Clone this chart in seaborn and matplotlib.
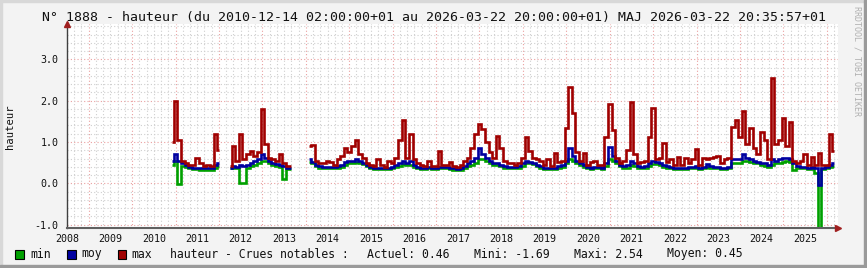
import numpy as np
import pandas as pd
import matplotlib
matplotlib.use("Agg")
import matplotlib.pyplot as plt
from matplotlib.patches import Rectangle
import seaborn as sns

nan = np.nan

# ---------------- data (monthly, first month = 2010-12) ----------------
start_month = "2010-12-01"

max_vals = [
    1.00, 2.00, 1.06, 0.55, 0.50, 0.45, 0.45, 0.62, 0.48, 0.42, 0.45, 0.42,
    1.19, 0.80, nan, nan, 0.42, 0.90, 0.55, 1.19, 0.60, 0.72, 0.77, 0.65,
    0.75, 1.79, 0.95, 0.62, 0.60, 0.55, 0.72, 0.48, 0.42, 0.42, nan, nan,
    nan, nan, 0.90, 0.92, 0.55, 0.48, 0.50, 0.55, 0.52, 0.45, 0.58, 0.65,
    0.85, 0.75, 0.90, 1.06, 0.70, 0.62, 0.48, 0.45, 0.42, 0.58, 0.45, 0.40,
    0.55, 0.48, 0.62, 1.06, 1.54, 0.62, 1.20, 0.60, 0.48, 0.45, 0.42, 0.55,
    0.42, 0.42, 0.79, 0.45, 0.45, 0.52, 0.42, 0.40, 0.45, 0.55, 0.62, 0.85,
    1.19, 1.43, 1.31, 1.00, 0.75, 0.62, 1.14, 0.85, 0.55, 0.50, 0.48, 0.45,
    0.50, 0.62, 1.11, 0.78, 0.62, 0.58, 0.55, 0.45, 0.58, 0.42, 0.73, 0.52,
    0.55, 1.35, 2.32, 1.70, 0.75, 0.55, 0.73, 0.45, 0.52, 0.55, 0.45, 0.45,
    1.12, 1.92, 1.30, 0.62, 0.50, 0.55, 0.80, 1.96, 0.72, 0.48, 0.52, 0.55,
    1.11, 1.82, 0.60, 0.62, 0.97, 0.52, 0.58, 0.45, 0.64, 0.45, 0.62, 0.48,
    0.60, 0.82, 0.45, 0.62, 0.60, 0.62, 0.64, 0.65, 0.50, 0.60, 0.62, 1.37,
    1.53, 1.11, 1.75, 0.95, 1.35, 0.85, 0.70, 1.25, 1.05, 0.60, 2.54, 0.94,
    1.06, 1.57, 0.90, 1.48, 0.55, 0.48, 0.55, 0.71, 0.45, 0.64, 0.45, 0.74,
    0.45, 0.45, 1.19, 0.79,
]

moy_vals = [
    0.55, 0.70, 0.55, 0.48, 0.44, 0.40, 0.38, 0.38, 0.37, 0.36, 0.36, 0.37,
    0.45, 0.50, nan, nan, 0.38, 0.42, 0.40, 0.45, 0.42, 0.45, 0.50, 0.55,
    0.60, 0.72, 0.62, 0.55, 0.50, 0.47, 0.45, 0.42, 0.38, 0.37, nan, nan,
    nan, nan, 0.60, 0.52, 0.45, 0.42, 0.40, 0.40, 0.40, 0.40, 0.42, 0.45,
    0.52, 0.55, 0.55, 0.60, 0.55, 0.50, 0.45, 0.40, 0.38, 0.38, 0.37, 0.37,
    0.38, 0.40, 0.45, 0.50, 0.55, 0.48, 0.55, 0.45, 0.40, 0.38, 0.38, 0.40,
    0.38, 0.38, 0.40, 0.40, 0.40, 0.38, 0.36, 0.35, 0.36, 0.42, 0.48, 0.55,
    0.62, 0.85, 0.72, 0.62, 0.55, 0.50, 0.50, 0.45, 0.42, 0.40, 0.40, 0.40,
    0.42, 0.48, 0.55, 0.52, 0.50, 0.45, 0.42, 0.38, 0.37, 0.36, 0.38, 0.42,
    0.45, 0.55, 0.85, 0.65, 0.55, 0.48, 0.45, 0.40, 0.38, 0.40, 0.40, 0.38,
    0.50, 0.87, 0.65, 0.55, 0.45, 0.42, 0.45, 0.55, 0.50, 0.42, 0.40, 0.42,
    0.48, 0.55, 0.52, 0.48, 0.45, 0.42, 0.40, 0.38, 0.38, 0.37, 0.38, 0.40,
    0.40, 0.42, 0.38, 0.40, 0.47, 0.42, 0.40, 0.40, 0.38, 0.38, 0.40, 0.60,
    0.58, 0.60, 0.72, 0.62, 0.60, 0.55, 0.52, 0.50, 0.48, 0.45, 0.60, 0.55,
    0.58, 0.62, 0.62, 0.60, 0.48, 0.42, 0.40, 0.40, 0.38, 0.40, 0.38, -0.04,
    0.38, 0.40, 0.45, 0.48,
]

min_vals = [
    0.45, 0.55, -0.02, 0.42, 0.40, 0.37, 0.35, 0.34, 0.33, 0.33, 0.32, 0.33,
    0.38, 0.42, nan, nan, 0.36, 0.38, 0.37, 0.00, 0.00, 0.38, 0.42, 0.45,
    0.50, 0.55, 0.55, 0.50, 0.45, 0.43, 0.40, 0.10, 0.35, 0.34, nan, nan,
    nan, nan, 0.52, 0.48, 0.42, 0.38, 0.36, 0.36, 0.37, 0.37, 0.38, 0.40,
    0.45, 0.48, 0.50, 0.52, 0.50, 0.46, 0.42, 0.37, 0.34, 0.34, 0.34, 0.35,
    0.35, 0.37, 0.40, 0.42, 0.47, 0.44, 0.45, 0.40, 0.37, 0.35, 0.35, 0.36,
    0.35, 0.35, 0.36, 0.37, 0.37, 0.35, 0.33, 0.32, 0.33, 0.36, 0.42, 0.45,
    0.50, 0.60, 0.58, 0.55, 0.50, 0.45, 0.45, 0.42, 0.38, 0.37, 0.37, 0.37,
    0.38, 0.42, 0.48, 0.48, 0.46, 0.42, 0.38, 0.35, 0.34, 0.34, 0.35, 0.37,
    0.40, 0.48, 0.60, 0.55, 0.50, 0.44, 0.40, 0.36, 0.35, 0.36, 0.36, 0.35,
    0.42, 0.60, 0.55, 0.50, 0.42, 0.38, 0.38, 0.45, 0.42, 0.38, 0.37, 0.38,
    0.42, 0.46, 0.47, 0.44, 0.40, 0.38, 0.36, 0.35, 0.35, 0.34, 0.35, 0.36,
    0.36, 0.37, 0.35, 0.36, 0.40, 0.38, 0.36, 0.36, 0.35, 0.35, 0.36, 0.50,
    0.50, 0.50, 0.55, 0.55, 0.52, 0.50, 0.48, 0.45, 0.43, 0.40, 0.45, 0.48,
    0.50, 0.52, 0.55, 0.52, 0.31, 0.38, 0.36, 0.36, 0.35, 0.35, 0.26, -1.69,
    0.35, 0.36, 0.40, 0.42,
]

series_names = ["min", "moy", "max"]
series_colors = ["#00a000", "#0000a0", "#a00000"]
year_labels = [str(y) for y in range(2008, 2026)]
y_ticks = [-1.0, 0.0, 1.0, 2.0, 3.0]
title_text = ("N° 1888 - hauteur (du 2010-12-14 02:00:00+01 au "
              "2026-03-22 20:00:00+01) MAJ 2026-03-22 20:35:57+01")
y_label = "hauteur"
stats_label = "hauteur - Crues notables :"
stats_text = ["Actuel: 0.46", "Mini: -1.69", "Maxi: 2.54", "Moyen: 0.45"]
watermark = "RRDTOOL / TOBI OETIKER"

# ---------------- build long table ----------------
dates = pd.date_range(start_month, periods=len(max_vals), freq="MS")
tpos = dates.year + (dates.month - 1) / 12.0
frames = []
for name, vals in zip(series_names, [min_vals, moy_vals, max_vals]):
    v = np.array(vals, dtype=float)
    seg = np.cumsum(np.isnan(v))
    d = pd.DataFrame({"t": tpos, "value": v, "serie": name, "seg": seg})
    frames.append(d.dropna())
df = pd.concat(frames, ignore_index=True)

# ---------------- figure ----------------
sns.set_style("white")
plt.rcParams["font.family"] = ["DejaVu Sans Mono"]
plt.rcParams["axes.unicode_minus"] = False

W, H = 867, 268
fig = plt.figure(figsize=(W / 100, H / 100), dpi=100, facecolor="#f3f3f3")

def fx(px):
    return px / W

def fy(py):
    return 1 - py / H

# border (rrdtool style)
fig.patches.append(Rectangle((0, fy(2)), 1, 2 / H, transform=fig.transFigure,
                             color="#d8d8d8", zorder=0))
fig.patches.append(Rectangle((0, 0), 2 / W, 1, transform=fig.transFigure,
                             color="#d8d8d8", zorder=0))
fig.patches.append(Rectangle((fx(864), 0), 3 / W, 1, transform=fig.transFigure,
                             color="#9a9a9a", zorder=0))
fig.patches.append(Rectangle((0, 0), 1, 3 / H, transform=fig.transFigure,
                             color="#9a9a9a", zorder=0))

ax_l, ax_r, ax_t, ax_b = 67, 838, 24, 228
ax = fig.add_axes([fx(ax_l), fy(ax_b), (ax_r - ax_l) / W, (ax_b - ax_t) / H])
ax.set_facecolor("white")

px_per_year = 43.5
x0 = 2011 + (ax_l - 174.3) / px_per_year
x1 = 2011 + (ax_r - 174.3) / px_per_year
y0 = (183.3 - ax_b) / 41.3
y1 = (183.3 - ax_t) / 41.3
ax.set_xlim(x0, x1)
ax.set_ylim(y0, y1)

# grid
minor_c = "#cfcfcf"
major_c = "#eaa0a0"
dot = (0, (1, 2))
for k in range(-5, 20):
    yv = k * 0.2
    if y0 < yv < y1:
        is_major = (k % 5 == 0)
        ax.axhline(yv, color=major_c if is_major else minor_c, lw=0.8,
                   ls=dot, zorder=1)
for m in range(2008 * 6, 2027 * 6):
    xv = m / 6.0
    if x0 < xv < x1:
        is_major = (m % 6 == 0)
        ax.axvline(xv, color=major_c if is_major else minor_c, lw=0.8,
                   ls=dot, zorder=1)

sns.lineplot(data=df, x="t", y="value", hue="serie", units="seg",
             estimator=None, hue_order=series_names,
             palette=dict(zip(series_names, series_colors)),
             drawstyle="steps-mid", linewidth=1.9, legend=False, ax=ax,
             solid_joinstyle="miter", solid_capstyle="butt")

ax.set_xlabel("")
ax.set_ylabel("")
ax.set_xticks([int(y) + 0.5 for y in year_labels])
ax.set_xticklabels(year_labels, fontsize=7.2, color="#111111")
ax.set_yticks(y_ticks)
ax.set_yticklabels([f"{v:.1f}" for v in y_ticks], fontsize=7.2, color="#111111")
ax.tick_params(axis="x", length=0, pad=4)
ax.tick_params(axis="y", length=0, pad=6)

for s in ["top", "right"]:
    ax.spines[s].set_visible(False)
ax.spines["left"].set_color("#404040")
ax.spines["left"].set_linewidth(1.0)
ax.spines["bottom"].set_color("#606060")
ax.spines["bottom"].set_linewidth(1.5)
ax.plot([0], [1], marker="^", color="#a02020", markersize=5,
        transform=ax.transAxes, clip_on=False, zorder=5)
ax.plot([1], [0], marker=">", color="#a02020", markersize=5,
        transform=ax.transAxes, clip_on=False, zorder=5)

# texts
fig.text(0.5, fy(18), title_text, ha="center", va="center", fontsize=9.5,
         color="#111111")
fig.text(fx(10), fy(127), y_label, rotation=90, ha="center", va="center",
         fontsize=7.6, color="#111111")
fig.text(fx(857), fy(61), watermark, rotation=270, ha="center", va="center",
         fontsize=6.0, color="#b0b0b0")

# legend
leg_y = 254
box_x = [15, 67, 117.5]
text_x = [30, 81, 131.7]
for bx, tx, name, col in zip(box_x, text_x, series_names, series_colors):
    fig.patches.append(Rectangle((fx(bx), fy(leg_y + 4.5)), 8.5 / W, 9 / H,
                                 transform=fig.transFigure, facecolor=col,
                                 edgecolor="black", lw=0.8, zorder=3))
    fig.text(fx(tx), fy(leg_y), name, ha="left", va="center", fontsize=8.3,
             color="#111111")
fig.text(fx(169.5), fy(leg_y), stats_label, ha="left", va="center",
         fontsize=8.3, color="#111111")
for sx, st in zip([367, 474, 574, 667], stats_text):
    fig.text(fx(sx), fy(leg_y), st, ha="left", va="center", fontsize=8.3,
             color="#111111")

fig.savefig("out.png", dpi=100, facecolor=fig.get_facecolor())
